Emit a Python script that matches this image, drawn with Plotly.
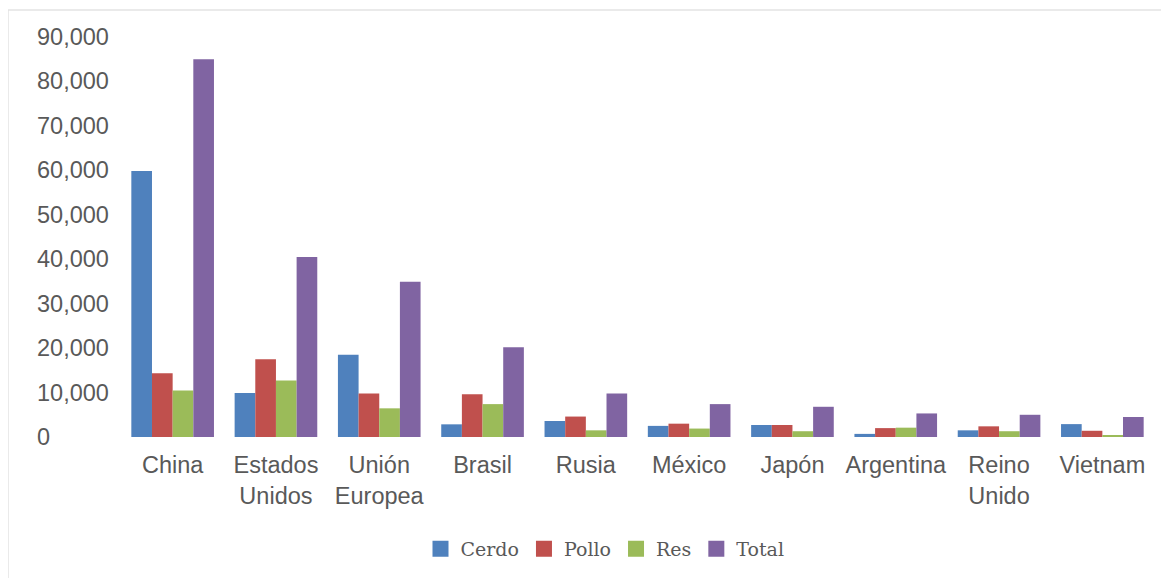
import plotly.graph_objects as go

categories = ["China", "Estados<br>Unidos", "Unión<br>Europea", "Brasil", "Rusia",
              "México", "Japón", "Argentina", "Reino<br>Unido", "Vietnam"]
cerdo = [59850, 9900, 18500, 2850, 3600, 2500, 2700, 700, 1500, 2900]
pollo = [14350, 17500, 9800, 9600, 4600, 3000, 2700, 2000, 2400, 1400]
res = [10450, 12700, 6450, 7400, 1500, 1900, 1300, 2100, 1300, 400]
total = [85000, 40500, 34950, 20200, 9800, 7400, 6800, 5300, 5000, 4500]
y_ticks = [0, 10000, 20000, 30000, 40000, 50000, 60000, 70000, 80000, 90000]
y_tick_labels = ["0", "10,000", "20,000", "30,000", "40,000", "50,000",
                 "60,000", "70,000", "80,000", "90,000"]

series = [("Cerdo", cerdo, "#4F81BD"), ("Pollo", pollo, "#C0504D"),
          ("Res", res, "#9BBB59"), ("Total", total, "#8064A2")]

fig = go.Figure()
for name, vals, color in series:
    fig.add_trace(go.Bar(name=name, x=categories, y=vals, marker_color=color,
                         marker_line_width=0, legendgroup=name,
                         showlegend=False))
for name, vals, color in series:
    fig.add_trace(go.Scatter(name=name, x=[None], y=[None], mode="markers",
                             marker=dict(symbol="square", size=18, color=color),
                             legendgroup=name, showlegend=True))

# page body has an 8px offset
W, H = 1161, 570
L, R, T = 113, 15, 29
plot_bottom = 429
B = H - plot_bottom
pw = W - L - R
ph = H - T - B

annotations = []
for v, lab in zip(y_ticks, y_tick_labels):
    annotations.append(dict(x=(27 - L) / pw, xref="paper", y=v, yref="y",
                            text=lab, showarrow=False, xanchor="left",
                            yanchor="middle",
                            font=dict(family="Liberation Sans, Arial", size=23.5,
                                      color="#595959")))

fig.update_layout(
    width=W, height=H,
    margin=dict(l=L, r=R, t=T, b=B),
    paper_bgcolor="white", plot_bgcolor="white",
    barmode="group", bargap=0.2, bargroupgap=0,
    font=dict(family="Liberation Sans, Arial", color="#595959"),
    xaxis=dict(showgrid=False, showline=False, zeroline=False,
               ticks="outside", ticklen=7, tickcolor="rgba(0,0,0,0)",
               tickfont=dict(family="Liberation Sans, Arial", size=23.5,
                             color="#595959")),
    yaxis=dict(range=[0, 90000], showgrid=False, showline=False,
               zeroline=False, showticklabels=False, tickvals=y_ticks),
    legend=dict(orientation="h", xref="container", yref="container",
                x=597 / W, xanchor="center", y=1 - 541 / H, yanchor="middle",
                font=dict(family="DejaVu Serif", size=19, color="#595959"),
                itemsizing="trace", traceorder="normal"),
    annotations=annotations,
    shapes=[dict(type="rect", xref="paper", yref="paper",
                 x0=(0 - L) / pw, x1=(1180 - L) / pw,
                 y0=(plot_bottom - 600) / ph, y1=(plot_bottom - 2) / ph,
                 line=dict(color="#e3e3e3", width=1.5), layer="below")],
)

fig.write_html("out.html")
